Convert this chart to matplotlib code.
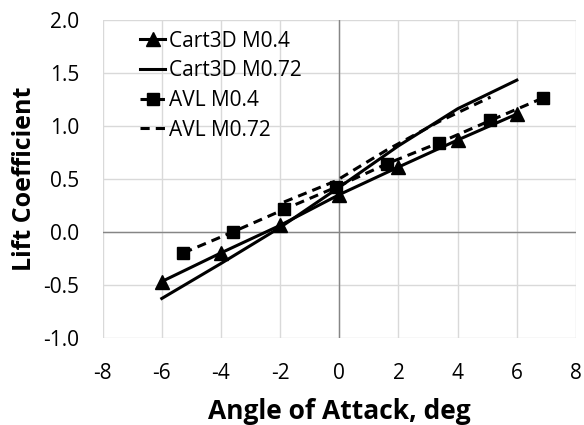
import numpy as np
import matplotlib
matplotlib.use("Agg")
import matplotlib.pyplot as plt

plt.rcParams['font.family'] = ['Open Sans', 'DejaVu Sans']
plt.rcParams['axes.unicode_minus'] = False

# Cart3D results (alpha, CL)
cart_alpha = [-6, -4, -2, 0, 2, 4, 6]
cart_m04 = [-0.47, -0.20, 0.06, 0.35, 0.61, 0.865, 1.11]
cart_m072 = [-0.63, -0.30, 0.04, 0.42, 0.81, 1.16, 1.43]

# AVL results
avl_alpha = [-5.27, -3.58, -1.87, -0.11, 1.60, 3.38, 5.11, 6.87]
avl_m04 = [-0.20, 0.0, 0.21, 0.42, 0.64, 0.84, 1.05, 1.26]
avl_alpha_072 = [-1.87, -0.11, 1.60, 3.38, 5.11]
avl_m072 = [0.28, 0.48, 0.77, 1.04, 1.27]

xticks = [-8, -6, -4, -2, 0, 2, 4, 6, 8]
yticks = [-1.0, -0.5, 0.0, 0.5, 1.0, 1.5, 2.0]

fig = plt.figure(figsize=(5.84, 4.25), dpi=100)
ax = fig.add_axes([0.1757, 0.2054, 0.8106, 0.7482])

lw = 2.2
ax.plot(cart_alpha, cart_m04, color='black', lw=lw, marker='^', ms=9.5, label='Cart3D M0.4')
ax.plot(cart_alpha, cart_m072, color='black', lw=lw, label='Cart3D M0.72')
ax.plot(avl_alpha, avl_m04, color='black', lw=lw, ls=(0, (3, 2)), marker='s', ms=9, label='AVL M0.4')
ax.plot(avl_alpha_072, avl_m072, color='black', lw=lw, ls=(0, (3, 2)), label='AVL M0.72')

ax.set_xlim(-8, 8)
ax.set_ylim(-1, 2)
ax.set_xticks(xticks)
ax.set_yticks(yticks)
ax.set_yticklabels(['%.1f' % v for v in yticks])
ax.grid(True, color='#d9d9d9', lw=1)
ax.set_axisbelow(True)
ax.axhline(0, color='#868686', lw=1, zorder=1)
ax.axvline(0, color='#868686', lw=1, zorder=1)
for s in ax.spines.values():
    s.set_visible(False)
ax.tick_params(length=0, labelsize=15, colors='black')
ax.tick_params(axis='y', pad=17)
ax.tick_params(axis='x', pad=18)

ax.set_xlabel('Angle of Attack, deg', fontsize=19, fontweight='bold', labelpad=10)
ax.set_ylabel('Lift Coefficient', fontsize=18, fontweight='bold', labelpad=4)

ax.legend(loc='upper left', bbox_to_anchor=(0.08, 0.966), frameon=False, fontsize=15,
          handlelength=1.2, handletextpad=0.15, labelspacing=0.42, borderaxespad=0,
          borderpad=0)

fig.savefig('out.png', dpi=100, facecolor='white')
